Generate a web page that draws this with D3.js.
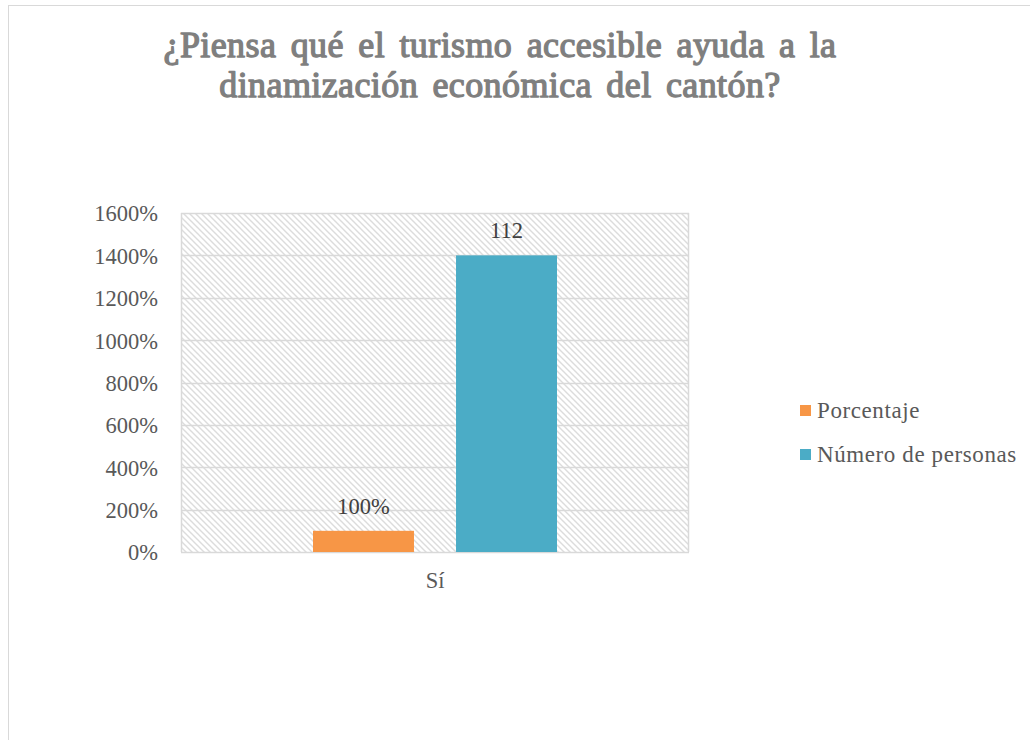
<!DOCTYPE html>
<html><head><meta charset="utf-8">
<script src="https://cdn.jsdelivr.net/npm/d3@7"></script>
<style>body{margin:0;background:#fff;}svg{display:block;}</style>
</head><body>
<script>
const titleLines = ["¿Piensa qué el turismo accesible ayuda a la", "dinamización económica del cantón?"];
const categories = ["Sí"];
const seriesNames = ["Porcentaje", "Número de personas"];
const seriesColors = ["#F79646", "#4BACC6"];
const porcentaje = [1.0];          // plotted as 100%
const numeroPersonasPlot = [14.0]; // plotted at 1400%
const dataLabels = [["100%"], ["112"]];
const yTicks = [0, 2, 4, 6, 8, 10, 12, 14, 16];

(function () {
const W = 1030, H = 740;
const FONT = "'Liberation Serif', 'Times New Roman', serif";
const svg = d3.select("body").append("svg").attr("width", W).attr("height", H);
const defs = svg.append("defs");
const pat = defs.append("pattern").attr("id", "hatch").attr("patternUnits", "userSpaceOnUse")
  .attr("width", 6).attr("height", 6);
pat.append("rect").attr("width", 6).attr("height", 6).attr("fill", "#fff");
pat.append("path").attr("d", "M-1,-1 L7,7 M-1,5 L1,7 M5,-1 L7,1")
  .attr("stroke", "#dcdcdc").attr("stroke-width", 1.4);

// outer chart border
svg.append("rect").attr("x", 8.5).attr("y", 5.5).attr("width", 1040).attr("height", 760)
  .attr("fill", "none").attr("stroke", "#d9d9d9");

// title (serif, emboldened with a stroke)
svg.append("g").selectAll("text").data(titleLines).join("text")
  .attr("x", 500).attr("y", (d, i) => 57 + i * 40)
  .attr("text-anchor", "middle")
  .attr("font-family", FONT)
  .attr("font-size", 36).attr("fill", "#7f7f7f")
  .attr("stroke", "#7f7f7f").attr("stroke-width", 1.3).attr("stroke-linejoin", "round")
  .attr("word-spacing", 5).attr("letter-spacing", 0.4)
  .text(d => d);

const pLeft = 181, pRight = 689, pTop = 213, pBottom = 552;
const x0 = d3.scaleBand().domain(categories).range([pLeft, pRight]).paddingInner(0).paddingOuter(0);
const x1 = d3.scaleBand().domain(seriesNames).range([0, x0.bandwidth()]).paddingInner(0.294).paddingOuter(0.923);
const y = d3.scaleLinear().domain([0, 16]).range([pBottom, pTop]);

// plot area
svg.append("rect").attr("x", pLeft).attr("y", pTop).attr("width", pRight - pLeft).attr("height", pBottom - pTop)
  .attr("fill", "url(#hatch)");
svg.append("g").selectAll("line").data(yTicks).join("line")
  .attr("x1", pLeft).attr("x2", pRight)
  .attr("y1", d => Math.round(y(d)) + 0.5).attr("y2", d => Math.round(y(d)) + 0.5)
  .attr("stroke", "#d9d9d9").attr("stroke-width", 1.5);
svg.append("line").attr("x1", pLeft + 0.5).attr("x2", pLeft + 0.5).attr("y1", pTop).attr("y2", pBottom)
  .attr("stroke", "#d9d9d9").attr("stroke-width", 1.5);
svg.append("line").attr("x1", pRight - 0.5).attr("x2", pRight - 0.5).attr("y1", pTop).attr("y2", pBottom)
  .attr("stroke", "#d9d9d9").attr("stroke-width", 1.5);

// y axis
const yAxis = d3.axisLeft(y).tickValues(yTicks).tickSize(0).tickPadding(23)
  .tickFormat(d => (d * 100) + "%");
const ga = svg.append("g").attr("transform", `translate(${pLeft},0)`).call(yAxis);
ga.select(".domain").remove();
ga.selectAll("text").attr("font-family", FONT)
  .attr("font-size", 22.5).attr("fill", "#595959").attr("dy", "0.35em");

// x axis
const xAxis = d3.axisBottom(x0).tickSize(0).tickPadding(20);
const gx = svg.append("g").attr("transform", `translate(0,${pBottom})`).call(xAxis);
gx.select(".domain").remove();
gx.selectAll("text").attr("font-family", FONT)
  .attr("font-size", 22.5).attr("fill", "#595959").attr("dy", "0.71em");

// bars
const series = [porcentaje, numeroPersonasPlot];
series.forEach((vals, si) => {
  const g = svg.append("g");
  g.selectAll("rect").data(vals).join("rect")
    .attr("x", (d, i) => x0(categories[i]) + x1(seriesNames[si]))
    .attr("width", x1.bandwidth())
    .attr("y", d => y(d)).attr("height", d => pBottom - y(d))
    .attr("fill", seriesColors[si]);
  g.selectAll("text").data(vals).join("text")
    .attr("x", (d, i) => x0(categories[i]) + x1(seriesNames[si]) + x1.bandwidth() / 2)
    .attr("y", d => y(d) - 17)
    .attr("text-anchor", "middle")
    .attr("font-family", FONT)
    .attr("font-size", 22.5).attr("fill", "#404040")
    .text((d, i) => dataLabels[si][i]);
});

// legend
const lg = svg.append("g").selectAll("g").data(seriesNames).join("g")
  .attr("transform", (d, i) => `translate(800,${405 + i * 44})`);
lg.append("rect").attr("width", 11).attr("height", 11).attr("fill", (d, i) => seriesColors[i]);
lg.append("text").attr("x", 17).attr("y", 13)
  .attr("font-family", FONT)
  .attr("font-size", 23).attr("letter-spacing", 0.6).attr("fill", "#595959").text(d => d);
})();
</script>
</body></html>
